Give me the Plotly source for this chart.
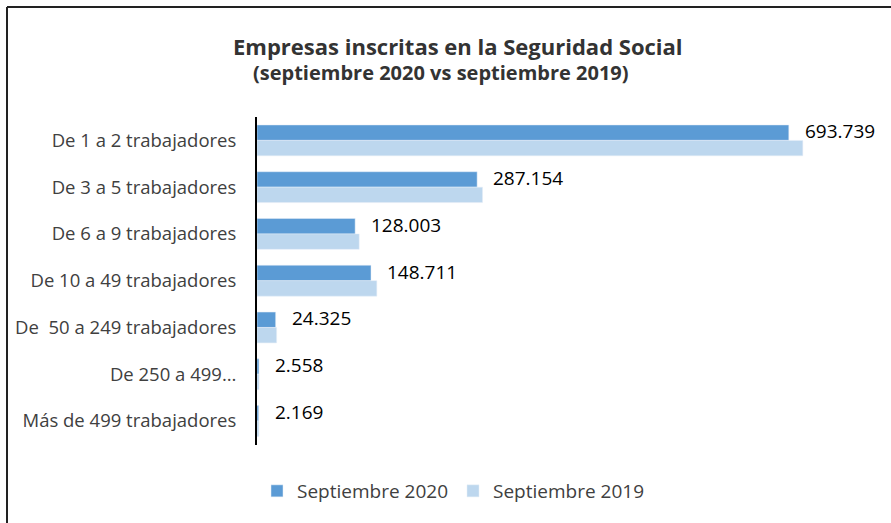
import plotly.graph_objects as go

categories = ["De 1 a 2 trabajadores", "De 3 a 5 trabajadores", "De 6 a 9 trabajadores",
              "De 10 a 49 trabajadores", "De\u00a0 50 a 249 trabajadores", "De 250 a 499…",
              "Más de 499 trabajadores"]
sep2020 = [693739, 287154, 128003, 148711, 24325, 2558, 2169]
sep2019 = [712000, 294200, 133300, 156300, 25600, 2700, 2400]
labels2020 = ["693.739", "287.154", "128.003", "148.711", "24.325", "2.558", "2.169"]

FONT = "'Open Sans', sans-serif"

fig = go.Figure()
fig.add_trace(go.Bar(y=categories, x=sep2020, orientation="h", name="Septiembre 2020",
                     marker=dict(color="#5B9BD5")))
fig.add_trace(go.Bar(y=categories, x=sep2019, orientation="h", name="Septiembre 2019",
                     marker=dict(color="#BDD7EE")))

for c, v, t in zip(categories, sep2020, labels2020):
    fig.add_annotation(x=v, y=c, text=t, showarrow=False, xanchor="left", yanchor="middle",
                       xshift=14, yshift=9, font=dict(size=19, color="#000000", family=FONT))

fig.add_annotation(xref="paper", yref="paper", x=(458 - 257) / 603, y=1 + (117 - 46) / 328,
                   text="<b>Empresas inscritas en la Seguridad Social</b>", showarrow=False,
                   xanchor="center", yanchor="middle", font=dict(size=22, color="#333333", family=FONT))
fig.add_annotation(xref="paper", yref="paper", x=(441 - 257) / 603, y=1 + (117 - 73) / 328,
                   text="<b>(septiembre 2020 vs septiembre 2019)</b>", showarrow=False,
                   xanchor="center", yanchor="middle", font=dict(size=20, color="#333333", family=FONT))

# frame
fx0 = (7 - 257) / 603
fx1 = (891 - 257) / 603
fy1 = 1 + (117 - 7) / 328
fy0 = (445 - 523) / 328
fig.add_shape(type="line", xref="paper", yref="paper", x0=fx0, x1=fx1, y0=fy1, y1=fy1,
              line=dict(color="#222222", width=2))
fig.add_shape(type="line", xref="paper", yref="paper", x0=fx0, x1=fx0, y0=fy0, y1=fy1,
              line=dict(color="#222222", width=2))

fig.update_layout(
    width=891, height=523,
    margin=dict(l=257, r=31, t=117, b=78),
    barmode="group", bargap=0.34, bargroupgap=0,
    plot_bgcolor="white", paper_bgcolor="white",
    font=dict(family=FONT, size=18, color="#404040"),
    showlegend=True,
    legend=dict(orientation="h", x=(453 - 257) / 603, xanchor="center", y=(445 - 491) / 328,
                yanchor="middle", font=dict(size=19, color="#404040"), itemwidth=30,
                traceorder="normal"),
    xaxis=dict(range=[0, 786600], visible=False, showgrid=False, zeroline=False),
    yaxis=dict(autorange="reversed", showline=True, linecolor="#000000", linewidth=2,
               ticks="", showgrid=False, ticklabelstandoff=15,
               tickfont=dict(size=18.5, color="#404040", family=FONT)),
)

fig.write_html("out.html", config={"displayModeBar": False},
               post_script="document.body.style.margin='0px';document.body.style.overflow='hidden';")
